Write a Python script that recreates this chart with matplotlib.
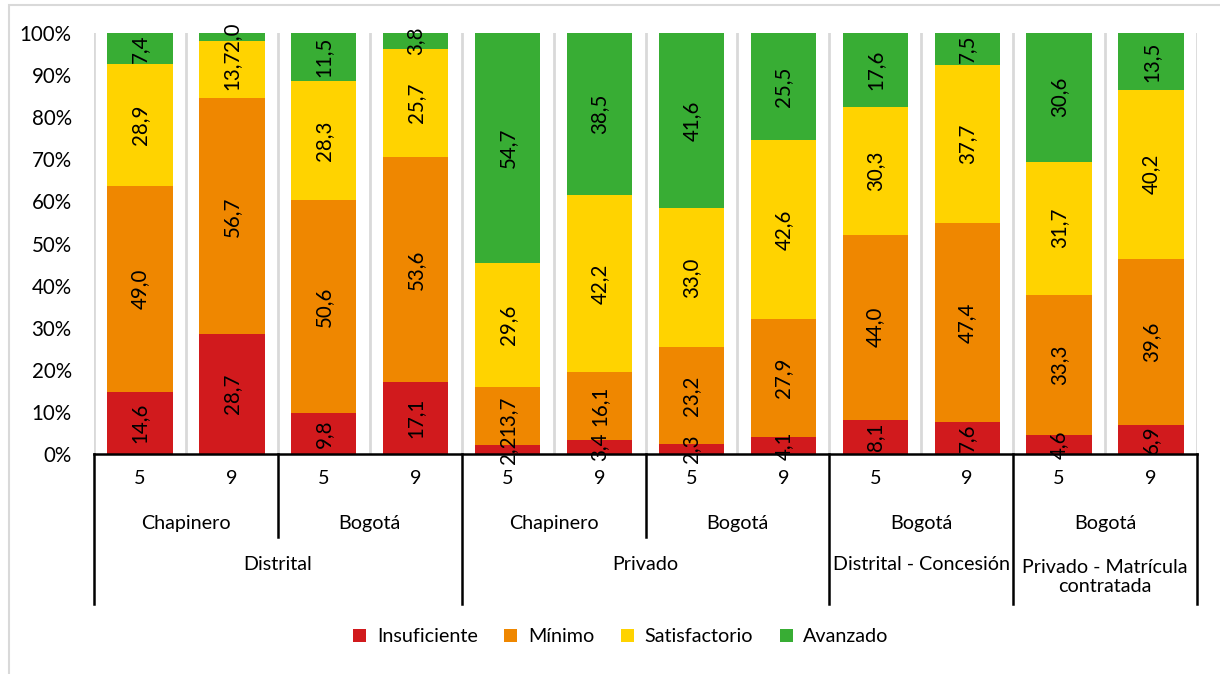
import matplotlib.pyplot as plt
from matplotlib.patches import Rectangle
import numpy as np

plt.rcParams['font.family'] = ['Lato', 'DejaVu Sans']

# categories (three levels)
grados = ["5", "9", "5", "9", "5", "9", "5", "9", "5", "9", "5", "9"]
zonas = ["Chapinero", "Bogotá", "Chapinero", "Bogotá", "Bogotá", "Bogotá"]
sectores = ["Distrital", "Privado", "Distrital - Concesión", "Privado - Matrícula\ncontratada"]

# series values (%)
insuficiente = [14.6, 28.7, 9.8, 17.1, 2.2, 3.4, 2.3, 4.1, 8.1, 7.6, 4.6, 6.9]
minimo = [49.0, 56.7, 50.6, 53.6, 13.7, 16.1, 23.2, 27.9, 44.0, 47.4, 33.3, 39.6]
satisfactorio = [28.9, 13.7, 28.3, 25.7, 29.6, 42.2, 33.0, 42.6, 30.3, 37.7, 31.7, 40.2]
avanzado = [7.4, 2.0, 11.5, 3.8, 54.7, 38.5, 41.6, 25.5, 17.6, 7.5, 30.6, 13.5]

niveles = ["Insuficiente", "Mínimo", "Satisfactorio", "Avanzado"]
colores = ["#D11A1D", "#EF8700", "#FFD300", "#38AD34"]

series = np.array([insuficiente, minimo, satisfactorio, avanzado])
pct = series / series.sum(axis=0) * 100  # 100% stacked

FS = 14.2

fig = plt.figure(figsize=(12.2, 6.74), dpi=100)
ax = fig.add_axes([94 / 1220, 1 - 454 / 674, 1103 / 1220, 421 / 674])

x = np.arange(len(grados))
bottom = np.zeros(len(grados))
for i, (name, col) in enumerate(zip(niveles, colores)):
    ax.bar(x, pct[i], 0.71, bottom=bottom, color=col, label=name, zorder=2)
    for xi, b, h, v in zip(x, bottom, pct[i], series[i]):
        ax.text(xi, b + h / 2, f"{v:.1f}".replace(".", ","), rotation=90,
                ha="center", va="center", fontsize=FS + 0.6, zorder=3)
    bottom += pct[i]

ax.set_xlim(-0.5, len(grados) - 0.5)
ax.set_ylim(0, 100)
ax.set_yticks(np.arange(0, 101, 10))
ax.set_yticklabels([f"{t}%" for t in range(0, 101, 10)], fontsize=FS + 0.6)
ax.tick_params(axis="y", length=0, pad=16)
ax.set_xticks([])
for s in ax.spines.values():
    s.set_visible(False)

# vertical gridlines between categories
for b in np.arange(-0.5, len(grados), 1):
    ax.axvline(b, color="#D9D9D9", lw=2, zorder=1)

# multi-level category axis
tr = ax.get_xaxis_transform()
kw = dict(transform=tr, clip_on=False, color="black", lw=1.8)
ax.plot([-0.5, len(grados) - 0.5], [0, 0], **kw)
y_l2, y_l3 = -83 / 421, -150 / 421
for xi, g in zip(x, grados):
    ax.text(xi, -24 / 421, g, transform=tr, ha="center", va="center", fontsize=FS)
for k, z in enumerate(zonas):
    ax.text(2 * k + 0.5, -69 / 421, z, transform=tr, ha="center", va="center", fontsize=FS)
for k in range(len(zonas) + 1):
    b = 2 * k - 0.5
    full = b in (-0.5, 3.5, 7.5, 9.5, 11.5)
    ax.plot([b, b], [0, y_l3 if full else y_l2], **kw)
sec_centers = [1.5, 5.5, 8.5, 10.5]
for c, s in zip(sec_centers, sectores):
    yy = -110 / 421 if "\n" not in s else -123 / 421
    ax.text(c, yy, s, transform=tr, ha="center", va="center", fontsize=FS, linespacing=1.15)

leg = fig.legend(loc="center", bbox_to_anchor=(0.509, 1 - 637 / 674), ncol=4,
                 frameon=False, fontsize=FS, handlelength=0.65, handleheight=0.65,
                 columnspacing=1.35, handletextpad=0.55)

# chart border (light gray)
fig.add_artist(Rectangle((9 / 1220, -0.1), 1.2, 1 - 5 / 674 + 0.1, transform=fig.transFigure,
                         fill=False, edgecolor="#D9D9D9", lw=1.5))

fig.savefig("out.png", dpi=100, facecolor="white")
